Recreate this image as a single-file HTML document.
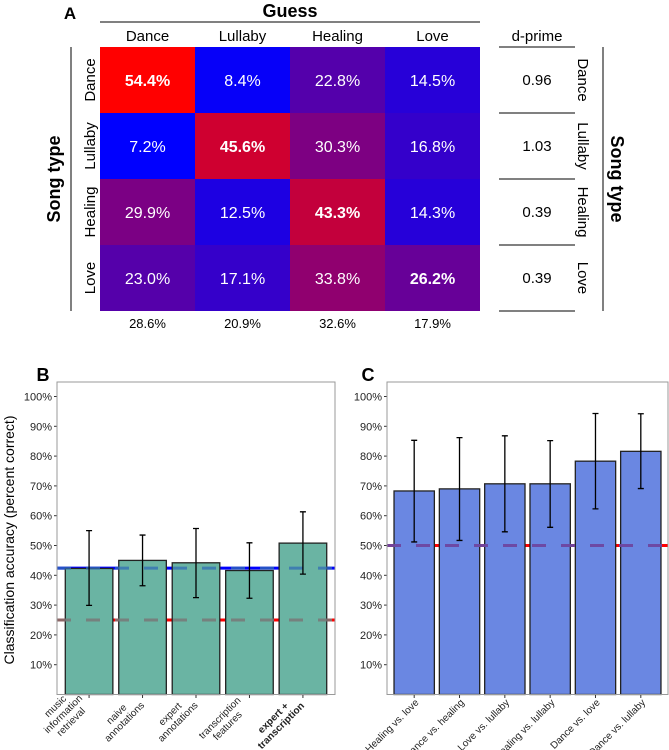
<!DOCTYPE html>
<html><head><meta charset="utf-8"><style>
body{margin:0;background:#fff;}
svg{display:block;font-family:"Liberation Sans",sans-serif;}
</style></head><body>
<svg id="fig" width="669" height="750" viewBox="0 0 669 750">
<g id="panelA"></g>
<g id="panelB"></g>
<g id="panelC"></g>
</svg>
<script>
// ---- Panel A data ----
const songTypes = ["Dance","Lullaby","Healing","Love"];
const cellValues = [
  [54.4, 8.4, 22.8, 14.5],
  [7.2, 45.6, 30.3, 16.8],
  [29.9, 12.5, 43.3, 14.3],
  [23.0, 17.1, 33.8, 26.2]
];
const guessTotals = [28.6, 20.9, 32.6, 17.9];
const dPrime = ["0.96","1.03","0.39","0.39"];
// ---- Panel B data ----
const bCategories = [["music","information","retrieval"],["naive","annotations"],["expert","annotations"],["transcription","features"],["expert +","transcription"]];
const bValues = [42.3, 45.0, 44.2, 41.6, 50.8];
const bLow = [29.9, 36.5, 32.5, 32.3, 40.4];
const bHigh = [55.0, 53.5, 55.7, 50.9, 61.3];
const bChance = 25;
const bHuman = 42.4;
// ---- Panel C data ----
const cCategories = ["Healing vs. love","Dance vs. healing","Love vs. lullaby","Healing vs. lullaby","Dance vs. love","Dance vs. lullaby"];
const cValues = [68.3, 69.0, 70.7, 70.7, 78.3, 81.6];
const cLow = [51.2, 51.7, 54.6, 56.1, 62.3, 69.1];
const cHigh = [85.3, 86.2, 86.8, 85.2, 94.3, 94.2];
const cChance = 50;
const yTicks = [10,20,30,40,50,60,70,80,90,100];

const NS="http://www.w3.org/2000/svg";
function mk(parent, tag, attrs, txt){
  const e=document.createElementNS(NS,tag);
  for(const k in attrs) e.setAttribute(k, attrs[k]);
  if(txt!==undefined) e.textContent=txt;
  parent.appendChild(e); return e;
}

// ===== Panel A =====
(function(){
  const g=document.getElementById('panelA');
  const x0=100, y0=47, cw=95, ch=66;
  const all=cellValues.flat(); const mn=Math.min(...all), mx=Math.max(...all);
  const colX=i=>x0+i*cw, rowY=j=>y0+j*ch;
  let t=mk(g,'text',{x:70,y:19,'font-size':17,'font-weight':'bold','text-anchor':'middle'},'A');
   
  t=mk(g,'text',{x:290,y:17,'font-size':18,'font-weight':'bold','text-anchor':'middle'},'Guess');
   
  let l=mk(g,'line',{x1:100,y1:22,x2:480,y2:22,stroke:'#000','stroke-width':1});
   
  songTypes.forEach((s,i)=>{
    const c=mk(g,'text',{x:colX(i)+cw/2,y:41,'font-size':15,'text-anchor':'middle'},s);
     
    const r=mk(g,'text',{transform:`translate(95,${rowY(i)+ch/2}) rotate(-90)`,'font-size':15,'text-anchor':'middle'},s);
     
    const r2=mk(g,'text',{transform:`translate(578,${rowY(i)+ch/2}) rotate(90)`,'font-size':15,'text-anchor':'middle'},s);
     
    const b=mk(g,'text',{x:colX(i)+cw/2,y:328,'font-size':13,'text-anchor':'middle'},guessTotals[i].toFixed(1)+'%');
     
    const d=mk(g,'text',{x:537,y:rowY(i)+ch/2+5,'font-size':15,'text-anchor':'middle'},dPrime[i]);
     
  });
  cellValues.forEach((row,j)=>row.forEach((v,i)=>{
    const f=(v-mn)/(mx-mn);
    const rect=mk(g,'rect',{x:colX(i),y:rowY(j),width:cw,height:ch,fill:`rgb(${Math.round(255*f)},0,${Math.round(255*(1-f))})`});
     
    const tx=mk(g,'text',{x:colX(i)+cw/2,y:rowY(j)+ch/2+6,'font-size':16,fill:'#fff','text-anchor':'middle','font-weight':i===j?'bold':'normal'},v.toFixed(1)+'%');
     
  }));
  l=mk(g,'line',{x1:71,y1:47,x2:71,y2:311,stroke:'#000'});
   
  t=mk(g,'text',{transform:'translate(60,179) rotate(-90)','font-size':18,'font-weight':'bold','text-anchor':'middle'},'Song type');
   
  t=mk(g,'text',{x:537,y:41,'font-size':15,'text-anchor':'middle'},'d-prime');
   
  for(let k=0;k<=4;k++){
    l=mk(g,'line',{x1:499,y1:y0+k*ch,x2:575,y2:y0+k*ch,stroke:'#000'});
     
  }
  l=mk(g,'line',{x1:603,y1:47,x2:603,y2:311,stroke:'#000'});
   
  t=mk(g,'text',{transform:'translate(611,179) rotate(90)','font-size':18,'font-weight':'bold','text-anchor':'middle'},'Song type');
   
})();

// ===== Bar panels =====
function barPanel(g, opts){
  const {left,right,cats,vals,lo,hi,fill,letter,lines,multi,boldLast}=opts;
  const top=382;
  const Y=v=>694.5-2.98*v;
  const n=cats.length; const band=(right-left)/(n+0.2);
  const cx=i=>left+band*(0.6+i);
  const bw=band*0.89;
  let t=mk(g,'text',{x:letter[1],y:381,'font-size':18,'font-weight':'bold','text-anchor':'middle'},letter[0]);
   
  yTicks.forEach(v=>{
    const tk=mk(g,'text',{x:left-5,y:Y(v)+4,'font-size':11,'text-anchor':'end',fill:'#222'},v+'%');
     
    const tl=mk(g,'line',{x1:left-3,y1:Y(v),x2:left,y2:Y(v),stroke:'#333'});
     
  });
  lines.forEach(L=>{
    const s=mk(g,'line',{x1:left,y1:Y(L.v),x2:right,y2:Y(L.v),stroke:L.solid,'stroke-width':3});
     
  });
  vals.forEach((v,i)=>{
    const r=mk(g,'rect',{x:cx(i)-bw/2,y:Y(v),width:bw,height:Y(0)-Y(v),fill:fill,stroke:'#222','stroke-width':1.3});
     
  });
  lines.forEach(L=>{
    const d=mk(g,'line',{x1:left,y1:Y(L.v),x2:right,y2:Y(L.v),stroke:L.dash,'stroke-width':3,'stroke-dasharray':'14,15'});
     
  });
  vals.forEach((v,i)=>{
    const e=mk(g,'path',{d:`M${cx(i)},${Y(lo[i])}V${Y(hi[i])}M${cx(i)-3},${Y(lo[i])}H${cx(i)+3}M${cx(i)-3},${Y(hi[i])}H${cx(i)+3}`,stroke:'#000','stroke-width':1.3,fill:'none'});
     
    const tk=mk(g,'line',{x1:cx(i),y1:694.5,x2:cx(i),y2:698,stroke:'#333'});
     
    const ls=multi?cats[i]:[cats[i]];
    const tg=mk(g,'text',{transform:`translate(${cx(i)+3},${701}) rotate(-45)`,'font-size':10,fill:'#222','text-anchor':multi?'middle':'end','font-weight':(boldLast&&i===n-1)?'bold':'normal'});
     
    const maxw=Math.max(...ls.map(s=>s.length))*2.7;
    ls.forEach((s,k)=>{
      mk(tg,'tspan',{x:multi?-maxw:0,y:(k-(ls.length-1))*11+3},s);
    });
  });
  const box=mk(g,'rect',{x:left,y:top,width:right-left,height:694.5-top,fill:'none',stroke:'#999','stroke-width':1});
   
}
barPanel(document.getElementById('panelB'),{left:57,right:335,cats:bCategories,vals:bValues,lo:bLow,hi:bHigh,fill:'#6ab4a3',letter:['B',43],multi:true,boldLast:true,
  lines:[{v:bChance,solid:'#ff0000',dash:'rgba(120,120,120,0.85)'},{v:bHuman,solid:'#0000ff',dash:'rgba(50,110,180,0.75)'}]});
barPanel(document.getElementById('panelC'),{left:387,right:668,cats:cCategories,vals:cValues,lo:cLow,hi:cHigh,fill:'#6a87e2',letter:['C',368],multi:false,boldLast:false,
  lines:[{v:cChance,solid:'#ff0000',dash:'rgba(110,70,160,0.95)'}]});
const yt=document.createElementNS(NS,'text');
yt.setAttribute('transform','translate(14,540) rotate(-90)');
yt.setAttribute('font-size','14');yt.setAttribute('text-anchor','middle');
yt.textContent='Classification accuracy (percent correct)';


document.getElementById('panelB').appendChild(yt);
</script>
</body></html>
